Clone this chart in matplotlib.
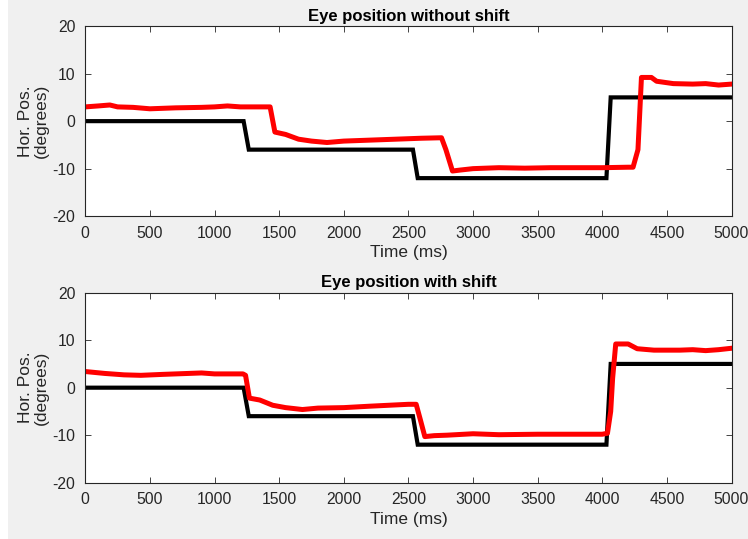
import numpy as np
import matplotlib
matplotlib.use('Agg')
import matplotlib.pyplot as plt
from matplotlib.patches import Rectangle

plt.rcParams['font.family'] = ['Liberation Sans', 'DejaVu Sans']
plt.rcParams['axes.unicode_minus'] = False

# target position (black step), same in both panels
target_t = [0, 1225, 1265, 2535, 2572, 4032, 4065, 5000]
target_y = [0, 0, -6, -6, -12, -12, 5, 5]

# eye position without shift (red, top)
eye1_t = [0, 100, 190, 250, 370, 500, 700, 900, 1000, 1100, 1200, 1300, 1430,
          1467, 1550, 1650, 1750, 1870, 2000, 2200, 2400, 2600, 2756, 2790,
          2841, 2900, 3000, 3200, 3400, 3600, 3800, 4000, 4200, 4238, 4276,
          4303, 4380, 4420, 4550, 4700, 4800, 4900, 5000]
eye1_y = [3.0, 3.2, 3.4, 3.0, 2.9, 2.6, 2.8, 2.9, 3.0, 3.2, 3.0, 3.0, 3.0,
          -2.3, -2.8, -3.8, -4.2, -4.5, -4.2, -4.0, -3.8, -3.6, -3.5, -6.0,
          -10.5, -10.3, -10.0, -9.8, -9.9, -9.8, -9.8, -9.8, -9.7, -9.7, -6.0,
          9.2, 9.2, 8.4, 7.9, 7.8, 7.9, 7.6, 7.8]

# eye position with shift (red, bottom)
eye2_t = [0, 150, 300, 430, 600, 900, 1000, 1220, 1240, 1270, 1350, 1450,
          1550, 1680, 1800, 2000, 2200, 2500, 2560, 2590, 2627, 2700, 2800,
          3000, 3200, 3500, 3800, 4000, 4040, 4065, 4080, 4104, 4200, 4270,
          4400, 4600, 4700, 4800, 4900, 5000]
eye2_y = [3.4, 3.0, 2.7, 2.6, 2.8, 3.1, 2.9, 2.9, 2.6, -2.2, -2.6, -3.7,
          -4.2, -4.6, -4.3, -4.2, -3.9, -3.5, -3.5, -6.5, -10.3, -10.1, -10.0,
          -9.7, -9.9, -9.8, -9.8, -9.8, -9.6, -5.0, 2.0, 9.2, 9.2, 8.2,
          7.9, 7.9, 8.0, 7.8, 8.0, 8.3]

titles = ['Eye position without shift', 'Eye position with shift']
xticks = np.arange(0, 5001, 500)
yticks = [-20, -10, 0, 10, 20]

fig = plt.figure(figsize=(7.48, 5.39), dpi=100, facecolor='white')
fig.patches.append(Rectangle((8 / 748, 0), 1, 1, transform=fig.transFigure,
                             facecolor='#f0f0f0', edgecolor='none', zorder=-1))

axes_pos = [[0.114, 0.599, 0.864, 0.3525], [0.114, 0.1045, 0.864, 0.3525]]
eyes = [(eye1_t, eye1_y), (eye2_t, eye2_y)]
grey = '#262626'

for pos, title, (et, ey) in zip(axes_pos, titles, eyes):
    ax = fig.add_axes(pos)
    ax.plot(target_t, target_y, color='black', lw=3.0, solid_joinstyle='miter')
    ax.plot(et, ey, color='red', lw=3.6, solid_joinstyle='round')
    ax.set_xlim(0, 5000)
    ax.set_ylim(-20, 20)
    ax.set_xticks(xticks)
    ax.set_yticks(yticks)
    ax.tick_params(direction='in', top=True, right=True, labelsize=11.3,
                   colors=grey, length=4, width=0.6, pad=7)
    for sp in ax.spines.values():
        sp.set_color(grey)
        sp.set_linewidth(0.8)
    ax.set_title(title, fontsize=12, fontweight='bold', color='black', pad=4)
    ax.set_xlabel('Time (ms)', fontsize=12.5, color=grey, labelpad=3)
    ax.set_ylabel('Hor. Pos.\n(degrees)', fontsize=12.5, color=grey,
                  labelpad=3, linespacing=1.0)

fig.savefig('out.png', dpi=100, facecolor=fig.get_facecolor())
